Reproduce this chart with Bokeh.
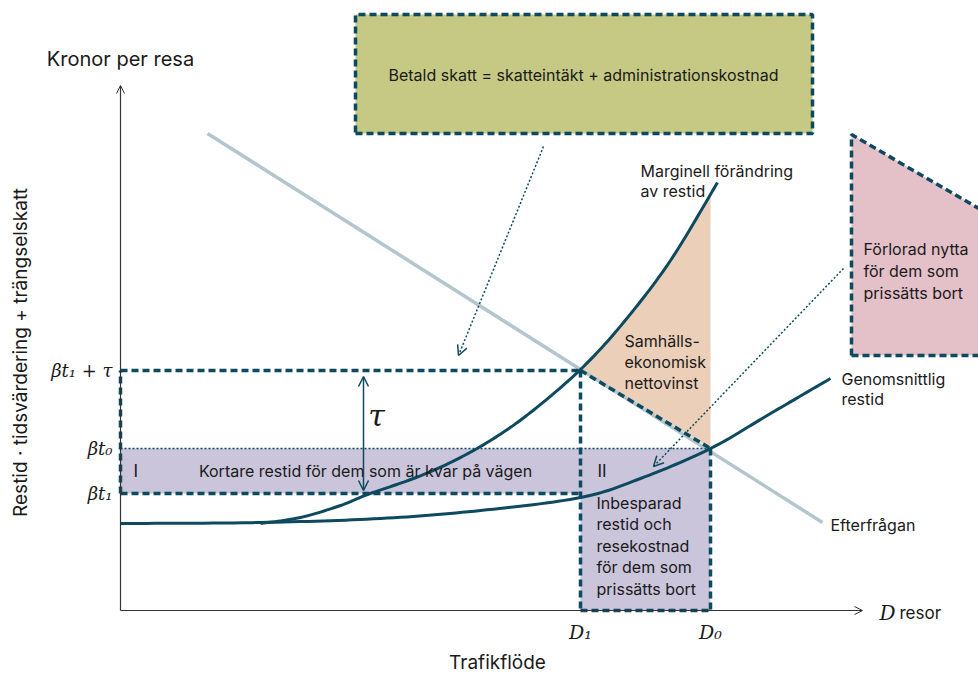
import numpy as np
from bokeh.plotting import figure
from bokeh.models import Range1d, Arrow, OpenHead
from bokeh.core.properties import value
from bokeh.embed import file_html
from bokeh.resources import INLINE

# ---------------- data (diagram units: D = traffic flow, kronor per trip) -------------
D1 = 46.0
D0 = 59.0
beta_t1 = 11.7
beta_t0 = 16.2
beta_t1_tau = 24.0
y_axis_top = 52.5
x_axis_end = 74.2

avg_x = [0, 14, 26, 36, 46, 52, 59, 65, 71]
avg_y = [8.7, 8.8, 9.2, 10.0, 11.3, 13.2, 16.2, 19.7, 23.2]

marg_x = [14, 18, 22, 24.7, 29.3, 33, 37, 41, 46, 50.3, 55, 59.7]
marg_y = [8.7, 9.3, 10.5, 11.6, 13.2, 14.8, 17.0, 19.8, 24.1, 28.8, 35.0, 42.8]

demand_x = [8.7, 70.2]
demand_y = [47.7, 8.8]

tax_box_x = [23.5, 69.2]
tax_box_y = [47.7, 59.6]
lost_x = [73.1, 86.0, 86.0, 73.1]
lost_y = [47.6, 40.1, 25.5, 25.5]

tick_labels_y = ["βt₁ + τ", "βt₀", "βt₁"]
tick_values_y = [beta_t1_tau, beta_t0, beta_t1]
tick_labels_x = ["D₁", "D₀"]
tick_values_x = [D1, D0]

# ---------------- styles ----------------
DARK = "#0d4a5f"
DEMAND = "#b3c6cd"
PURPLE = "#cac5da"
ORANGE = "#eccfb8"
GREEN = "#c5c983"
PINK = "#e4c0c9"
TXT = "#1a1a1a"
SANS = value("Inter")
SERIF = value("DejaVu Serif")


def smooth(xs, ys, n=16):
    """Catmull-Rom pass through the read points, for a smooth drawn curve."""
    P = np.column_stack([xs, ys]).astype(float)
    P = np.vstack([P[0], P, P[-1]])
    out = []
    for i in range(1, len(P) - 2):
        p0, p1, p2, p3 = P[i - 1], P[i], P[i + 1], P[i + 2]
        for t in np.linspace(0, 1, n, endpoint=False):
            t2, t3 = t * t, t * t * t
            pt = 0.5 * ((2 * p1) + (-p0 + p2) * t + (2 * p0 - 5 * p1 + 4 * p2 - p3) * t2
                        + (-p0 + 3 * p1 - 3 * p2 + p3) * t3)
            out.append(pt)
    out.append(P[-2])
    out = np.array(out)
    return out[:, 0], out[:, 1]


p = figure(width=978, height=676, output_backend="svg", toolbar_location=None,
           x_range=Range1d(-12.0, 85.8), y_range=Range1d(-6.6, 61.0),
           x_axis_location=None, y_axis_location=None, min_border=0)
p.grid.visible = False
p.outline_line_color = None
p.background_fill_color = "white"
p.border_fill_color = "white"

mx, my = smooth(marg_x, marg_y)
ax, ay = smooth(avg_x, avg_y)

# ---------------- fills ----------------
p.patch([0, D1, D1, D0, D0, 0], [beta_t1, beta_t1, 0, 0, beta_t0, beta_t0],
        fill_color=PURPLE, line_color=None)

sel = (mx >= D1) & (mx <= D0)
top_y_D0 = np.interp(D0, mx, my)
p.patch([D1] + list(mx[sel]) + [D0, D0],
        [beta_t1_tau] + list(my[sel]) + [top_y_D0, beta_t0],
        fill_color=ORANGE, line_color=None)

p.patch([tax_box_x[0], tax_box_x[1], tax_box_x[1], tax_box_x[0]],
        [tax_box_y[0], tax_box_y[0], tax_box_y[1], tax_box_y[1]],
        fill_color=GREEN, line_color=DARK, line_width=3.5, line_dash="7 4")
p.patch(lost_x, lost_y, fill_color=PINK, line_color=None)
p.line([lost_x[3], lost_x[0], lost_x[1]], [lost_y[3], lost_y[0], lost_y[1]],
       line_color=DARK, line_width=3.5, line_dash="7 4")
p.line([lost_x[3], lost_x[2]], [lost_y[3], lost_y[2]],
       line_color=DARK, line_width=3.5, line_dash="7 4")

# ---------------- axes ----------------
p.add_layout(Arrow(end=OpenHead(size=8, line_width=1, line_color="#333"),
                   x_start=0, y_start=0, x_end=0, y_end=y_axis_top,
                   line_width=1.2, line_color="#333"))
p.add_layout(Arrow(end=OpenHead(size=8, line_width=1, line_color="#333"),
                   x_start=0, y_start=0, x_end=x_axis_end, y_end=0,
                   line_width=1.2, line_color="#333"))

# ---------------- curves ----------------
p.line(demand_x, demand_y, line_color=DEMAND, line_width=3.5)
p.line(list(ax), list(ay), line_color=DARK, line_width=3, line_join="round")
p.line(list(mx), list(my), line_color=DARK, line_width=3, line_join="round")

# ---------------- dashed guides ----------------
thick = dict(line_color=DARK, line_width=3.5, line_dash="7 4")
p.line([0, D1], [beta_t1_tau, beta_t1_tau], **thick)
p.line([0, 0], [beta_t1, beta_t1_tau], **thick)
p.line([0, D1], [beta_t1, beta_t1], **thick)
p.line([D1, D1], [beta_t1_tau, 0], **thick)
p.line([D0, D0], [beta_t0, 0], **thick)
p.line([D1, D0], [0, 0], **thick)
p.line([D1, D0], [beta_t1_tau, beta_t0], **thick)
p.line([0, D0], [beta_t0, beta_t0], line_color=DARK, line_width=1.5, line_dash="2 2")

# ---------------- arrows ----------------
p.add_layout(Arrow(start=OpenHead(size=10, line_width=1.5, line_color=DARK),
                   end=OpenHead(size=10, line_width=1.5, line_color=DARK),
                   x_start=24.3, y_start=12.0, x_end=24.3, y_end=23.4,
                   line_width=1.5, line_color=DARK))
p.add_layout(Arrow(end=OpenHead(size=10, line_width=1.5, line_color=DARK),
                   x_start=42.3, y_start=46.4, x_end=33.8, y_end=25.5,
                   line_width=1.5, line_color=DARK, line_dash="2 2"))
p.add_layout(Arrow(end=OpenHead(size=10, line_width=1.5, line_color=DARK),
                   x_start=72.3, y_start=34.2, x_end=53.3, y_end=14.4,
                   line_width=1.5, line_color=DARK, line_dash="2 2"))


# ---------------- texts ----------------
def txt(x, y, s, size="16px", align="left", font=SANS, style="normal", angle=0.0):
    p.text(x=[x], y=[y], text=[s], text_font=font, text_font_size=size,
           text_align=align, text_baseline="middle", text_color=TXT,
           text_font_style=style, angle=angle)


txt(0, 55.2, "Kronor per resa", size="20px", align="center")
txt(37.7, -5.2, "Trafikflöde", size="19px", align="center")
txt(-10.0, 25.8, "Restid · tidsvärdering + trängselskatt", size="19px", align="center",
    angle=np.pi / 2)
txt(75.9, -0.2, "D", size="20px", font=SERIF, style="italic")
txt(77.9, -0.2, "resor", size="17px")

for v, lab in zip(tick_values_x, tick_labels_x):
    txt(v, -2.1, lab, size="19px", align="center", font=SERIF, style="italic")
for v, lab in zip(tick_values_y, tick_labels_y):
    txt(-0.8, v, lab, size="18px", align="right", font=SERIF, style="italic")

txt(25.6, 19.5, "τ", size="30px", font=SERIF, style="italic", align="center")
txt(1.3, 14.0, "I", size="17px")
txt(24.5, 14.0, "Kortare restid för dem som är kvar på vägen", align="center")
txt(47.7, 14.0, "II", size="17px")
for i, s in enumerate(["Inbesparad", "restid och", "resekostnad", "för dem som", "prissätts bort"]):
    txt(47.6, 10.8 - 2.15 * i, s)
txt(46.3, 53.6, "Betald skatt = skatteintäkt + administrationskostnad", align="center")
for i, s in enumerate(["Förlorad nytta", "för dem som", "prissätts bort"]):
    txt(74.3, 36.2 - 2.2 * i, s)
for i, s in enumerate(["Marginell förändring", "av restid"]):
    txt(52.0, 44.0 - 2.0 * i, s)
for i, s in enumerate(["Samhälls-", "ekonomisk", "nettovinst"]):
    txt(50.4, 27.0 - 2.1 * i, s)
for i, s in enumerate(["Genomsnittlig", "restid"]):
    txt(72.1, 23.2 - 2.0 * i, s)
txt(71.0, 8.6, "Efterfrågan")

open("out.html", "w").write(file_html(p, INLINE))
